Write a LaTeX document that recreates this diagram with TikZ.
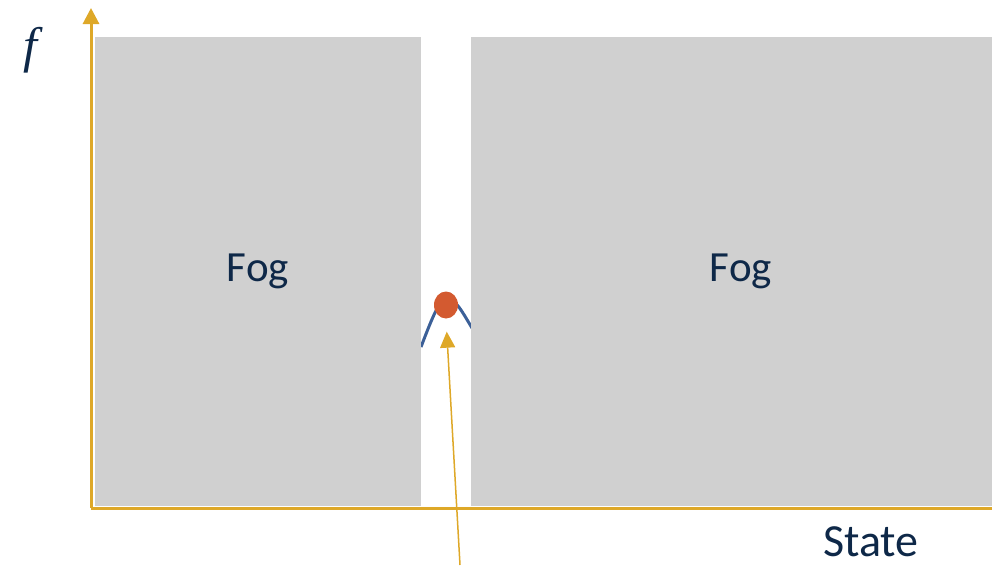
\documentclass[tikz,border=0pt]{standalone}
\usepackage{fontspec}
\setsansfont{Carlito}
\newfontfamily\mathish{Liberation Serif}
\usepackage{tikz}
\usetikzlibrary{arrows.meta,positioning,shapes.geometric}
\definecolor{fogGray}{RGB}{208,208,208}
\definecolor{axisGold}{RGB}{222,168,40}
\definecolor{peakRed}{RGB}{211,90,48}
\definecolor{curveBlue}{RGB}{60,96,152}
\definecolor{inkNavy}{RGB}{14,40,72}
\tikzset{
  font=\sffamily,
  % fog boxes hide most of the landscape
  fogbox/.style={
    fill=fogGray,
    draw=none,
    text=inkNavy,
    font=\sffamily\fontsize{43}{47}\selectfont
  },
  axis/.style={
    -{Triangle[length=16pt,width=16pt]},
    line width=3pt,
    draw=axisGold
  },
  pointer/.style={
    -{Triangle[length=16pt,width=15pt]},
    line width=1.5pt,
    draw=axisGold
  },
  lab/.style={
    text=inkNavy,
    inner sep=0pt,
    font=\sffamily\fontsize{46}{50}\selectfont
  }
}
\begin{document}
\begin{tikzpicture}[x=1pt,y=-1pt]
\useasboundingbox (0,0) rectangle (992,568);

\coordinate (origin) at (91,508);
\coordinate (ytop) at (91,8);
\coordinate (xend) at (1010,508);
\coordinate (tail) at (460,565);

% the landscape, mostly hidden
\draw[curveBlue, line width=3pt] (421,347) .. controls (432,318) and (440,298) .. (447,298)
  .. controls (455,298) and (463,313) .. (472,328);

\node[fogbox, minimum width=326pt, minimum height=469pt, inner sep=0pt] (fogL) at (258,271.5) {Fog};
\node[fogbox, minimum width=540pt, minimum height=469pt, inner sep=0pt] (fogR) at (741,271.5) {Fog};

\draw[axis] (origin) -- (ytop);
\draw[axisGold, line width=3pt] (origin) -- (xend);

\node[ellipse, fill=peakRed, minimum width=24pt, minimum height=27pt, inner sep=0pt] (peak) at (446,305) {};
\draw[pointer, shorten >=13pt] (tail) -- (peak.south);

\node[text=inkNavy, inner sep=0pt, font=\mathish\itshape\fontsize{50}{54}\selectfont] (fval) at (30,50) {f};
\node[lab, anchor=base] (state) at (871,556) {State};

\end{tikzpicture}
\end{document}
